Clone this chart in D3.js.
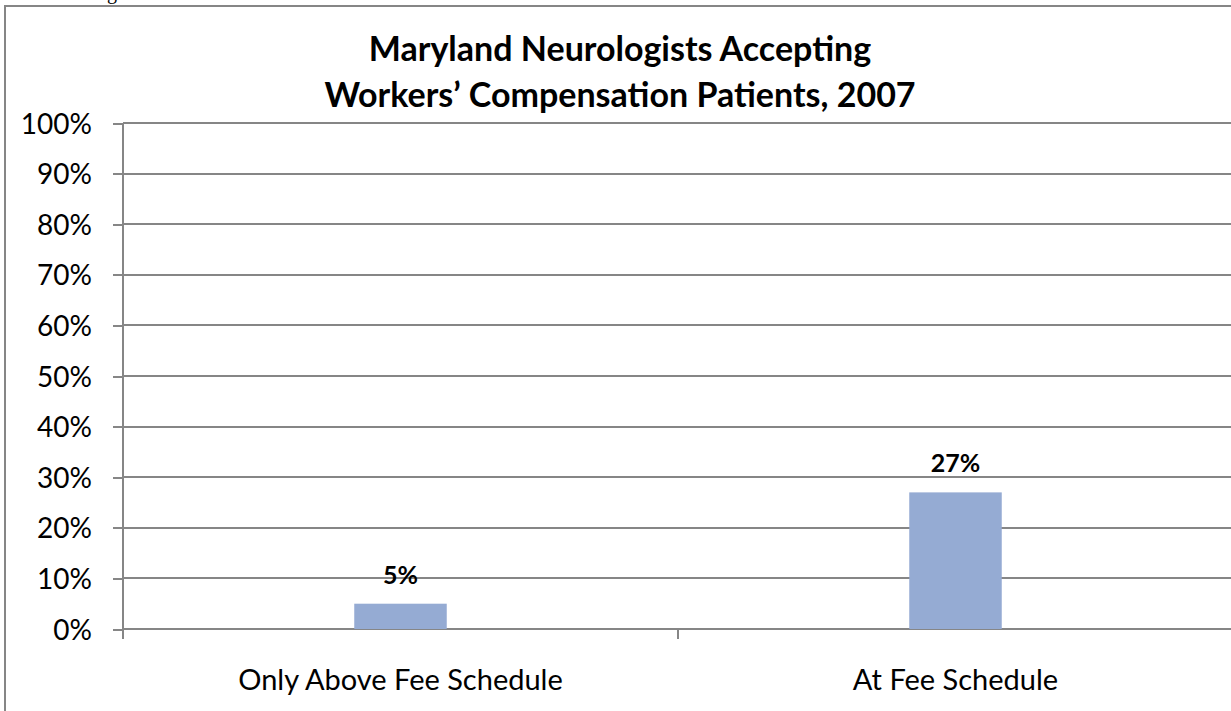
<!DOCTYPE html>
<html lang="en">
<head>
<meta charset="utf-8">
<title>Maryland Neurologists Accepting Workers' Compensation Patients, 2007</title>
<script src="https://cdn.jsdelivr.net/npm/d3@7"></script>
<style>
body { margin:0; background:#fff; font-family: Lato, 'Open Sans', sans-serif; }
svg { display:block; }
.grid line, .axis line { stroke:#868686; stroke-width:2px; shape-rendering:crispEdges; }
.axis path { display:none; }
.axis text { fill:#000; font-family: Lato, sans-serif; }
</style>
</head>
<body>
<svg width="1231" height="711"></svg>
<script>
// data
var categories = ["Only Above Fee Schedule", "At Fee Schedule"];
var values = [0.05, 0.27];
var yTicks = [0, 0.1, 0.2, 0.3, 0.4, 0.5, 0.6, 0.7, 0.8, 0.9, 1.0];
var titleLines = ["Maryland Neurologists Accepting", "Workers\u2019 Compensation Patients, 2007"];

var svg = d3.select("svg");
var margin = {top: 123, left: 123, bottom: 82};
var plotRight = 1233;
var height = 711 - margin.top - margin.bottom;   // 506

// outer chart frame (runs off the right/bottom edge in the original)
svg.append("rect")
  .attr("x", 5).attr("y", 6)
  .attr("width", 1300).attr("height", 800)
  .attr("fill", "none").attr("stroke", "#868686").attr("stroke-width", 2);

// fragment of a caption above the frame
svg.append("text")
  .attr("x", 107).attr("y", -1)
  .style("font-family", "'Liberation Serif', serif")
  .style("font-size", "20px")
  .text("g");

var x = d3.scaleBand()
  .domain(categories)
  .range([margin.left, plotRight]);

var y = d3.scaleLinear()
  .domain([0, 1])
  .range([margin.top + height, margin.top]);

// gridlines
svg.append("g").attr("class", "grid")
  .selectAll("line").data(yTicks.slice(1)).enter().append("line")
  .attr("x1", margin.left).attr("x2", plotRight)
  .attr("y1", function(d) { return y(d); })
  .attr("y2", function(d) { return y(d); });

// y axis
var yAxis = svg.append("g").attr("class", "axis")
  .attr("transform", "translate(" + margin.left + ",0)")
  .call(d3.axisLeft(y).tickValues(yTicks).tickFormat(d3.format(".0%")).tickSize(10).tickPadding(21));
yAxis.selectAll("text").style("font-size", "28px").attr("dy", "0.36em");
yAxis.append("line")
  .attr("x1", 0).attr("x2", 0)
  .attr("y1", y(1)).attr("y2", y(0));

// x axis baseline + category ticks
var xAxis = svg.append("g").attr("class", "axis")
  .attr("transform", "translate(0," + y(0) + ")");
xAxis.append("line").attr("x1", margin.left).attr("x2", plotRight).attr("y1", 0).attr("y2", 0);
var edges = categories.map(function(c) { return x(c); }).concat([x(categories[categories.length - 1]) + x.bandwidth()]);
xAxis.selectAll(".ctick").data(edges).enter().append("line")
  .attr("class", "ctick")
  .attr("x1", function(d) { return d; }).attr("x2", function(d) { return d; })
  .attr("y1", 0).attr("y2", 10);
xAxis.selectAll(".clabel").data(categories).enter().append("text")
  .attr("class", "clabel")
  .attr("x", function(d) { return x(d) + x.bandwidth() / 2; })
  .attr("y", 61)
  .attr("text-anchor", "middle")
  .style("font-size", "29px")
  .text(function(d) { return d; });

// bars
var barW = x.bandwidth() / 6;
svg.append("g").selectAll("rect").data(values).enter().append("rect")
  .attr("x", function(d, i) { return x(categories[i]) + x.bandwidth() / 2 - barW / 2; })
  .attr("y", function(d) { return y(d); })
  .attr("width", barW)
  .attr("height", function(d) { return y(0) - y(d); })
  .attr("fill", "#95abd3");

// data labels
svg.append("g").selectAll("text").data(values).enter().append("text")
  .attr("x", function(d, i) { return x(categories[i]) + x.bandwidth() / 2; })
  .attr("y", function(d) { return y(d) - 20; })
  .attr("text-anchor", "middle")
  .style("font-weight", "bold")
  .style("font-size", "25px")
  .text(function(d) { return d3.format(".0%")(d); });

// title
svg.append("g").selectAll("text").data(titleLines).enter().append("text")
  .attr("x", 620)
  .attr("y", function(d, i) { return 61 + i * 46; })
  .attr("text-anchor", "middle")
  .style("font-weight", "bold")
  .style("font-size", "34px")
  .text(function(d) { return d; });
</script>
</body>
</html>
